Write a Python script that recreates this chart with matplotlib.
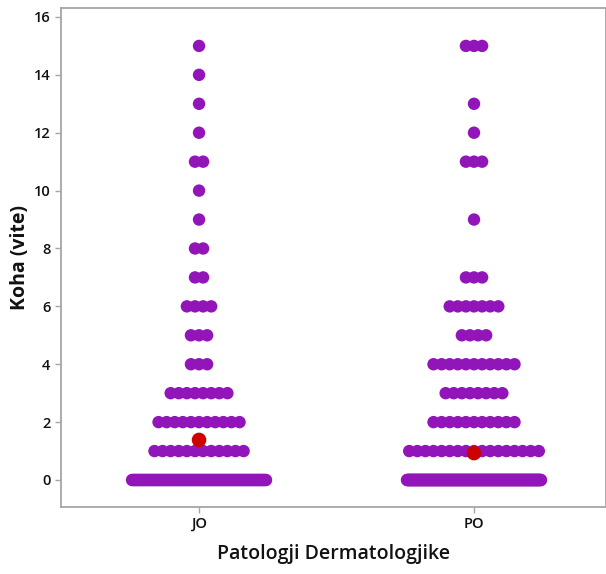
import matplotlib
matplotlib.use("Agg")
import matplotlib.pyplot as plt
import numpy as np

plt.rcParams['font.family'] = ['Open Sans', 'DejaVu Sans']

categories = ["JO", "PO"]
levels = [0, 1, 2, 3, 4, 5, 6, 7, 8, 9, 10, 11, 12, 13, 14, 15]
jo_counts = [116, 12, 11, 8, 3, 3, 4, 2, 2, 1, 1, 2, 1, 1, 1, 1]
po_counts = [255, 17, 11, 8, 11, 4, 7, 3, 0, 1, 0, 3, 1, 1, 0, 3]
yticks = [0, 2, 4, 6, 8, 10, 12, 14, 16]

dot_color = "#9115B8"
mean_color = "#CC0000"

W, H = 606, 574
fig = plt.figure(figsize=(W / 100, H / 100), dpi=100)
ax = fig.add_axes([61 / W, (574 - 507) / H, 545 / W, 499 / H])

spacing = 8.1 / 275.0
maxhw = 67.0 / 275.0

for ci, counts in enumerate([jo_counts, po_counts]):
    xs, ys = [], []
    for lv, n in zip(levels, counts):
        if n == 0:
            continue
        sp = spacing
        if n > 1 and (n - 1) / 2 * sp > maxhw:
            sp = maxhw / ((n - 1) / 2)
        offs = (np.arange(n) - (n - 1) / 2) * sp
        xs.extend(ci + offs)
        ys.extend([lv] * n)
    ax.scatter(xs, ys, s=80, color=dot_color, edgecolors='none', zorder=3)
    vals = np.repeat(levels, counts)
    ax.scatter([ci], [vals.mean()], s=110, color=mean_color, edgecolors='none', zorder=4)

ax.set_xlim(-0.502, 1.48)
ax.set_ylim(-0.933, 16.31)
ax.set_xticks([0, 1])
ax.set_xticklabels(categories)
ax.set_yticks(yticks)
ax.set_yticklabels([str(t) for t in yticks])

for s in ax.spines.values():
    s.set_color("#a6a6a6")
    s.set_linewidth(1.3)

ax.tick_params(axis='both', colors="#a6a6a6", length=4, width=1, labelcolor="#111111", labelsize=10.5)
for lab in ax.get_xticklabels() + ax.get_yticklabels():
    lab.set_fontweight('semibold')

ax.set_xlabel("Patologji Dermatologjike", fontsize=14, fontweight='semibold', color="#111111", labelpad=9)
ax.set_ylabel("Koha (vite)", fontsize=14, fontweight='bold', color="#111111", labelpad=3)

fig.savefig("out.png", dpi=100)
